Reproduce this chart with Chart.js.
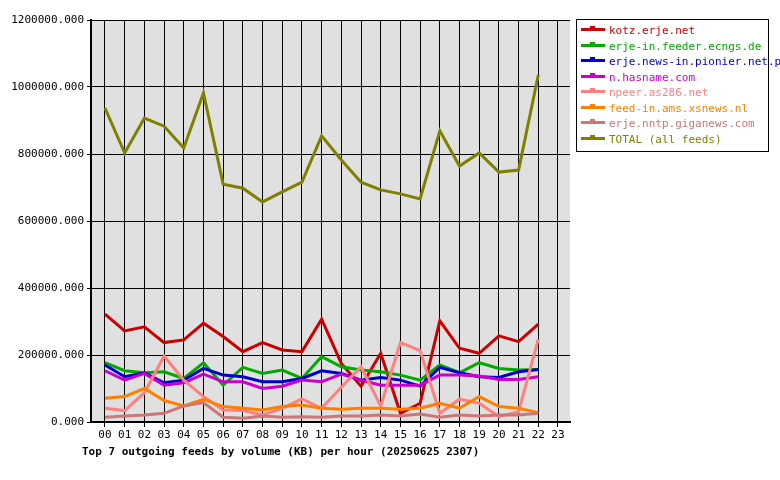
<!DOCTYPE html>
<html>
<head>
<meta charset="utf-8">
<script src="https://cdn.jsdelivr.net/npm/chart.js"></script>
<style>
  body { margin: 0; background: #fff; font-family: "DejaVu Sans Mono", monospace; }
  #wrap { position: relative; width: 780px; height: 480px; }
  #wrap canvas { position: absolute; left: 0; top: 0; }
  #legend { position: absolute; left: 576px; top: 19px; width: 191px; border: 1px solid #000; padding: 3px 0 4px 0; font-size: 11px; }
  #legend div { height: 15.5px; line-height: 15.5px; white-space: nowrap; }
  #legend span.sw { display: inline-block; position: relative; width: 24px; height: 3px; margin: 0 4px 3px 4px; vertical-align: middle; }
  #legend span.sw i { position: absolute; left: 9px; top: -2px; width: 5px; height: 5px; background: inherit; }
  #title { position: absolute; left: 82px; top: 445px; font-size: 11px; font-weight: bold; }
</style>
</head>
<body>
<div id="wrap">
  <canvas id="c" width="780" height="480"></canvas>
  <div id="legend"></div>
  <div id="title">Top 7 outgoing feeds by volume (KB) per hour (20250625 2307)</div>
</div>
<script>
// hours 00..22 (axis goes to 23)
const hours = ['00','01','02','03','04','05','06','07','08','09','10','11','12','13','14','15','16','17','18','19','20','21','22','23'];
const feedNames = ['kotz.erje.net', 'erje-in.feeder.ecngs.de', 'erje.news-in.pionier.net.pl', 'n.hasname.com',
  'npeer.as286.net', 'feed-in.ams.xsnews.nl', 'erje.nntp.giganews.com', 'TOTAL (all feeds)'];
const feedColors = ['#cc0000', '#00aa00', '#0000cc', '#cc00cc', '#ff8080', '#ff8000', '#cc7777', '#808000'];

const kotz = [322000,272000,284000,237000,245000,295000,255000,210000,237000,215000,210000,307000,175000,107000,205000,26000,56000,302000,220000,205000,257000,240000,292000];
const ecngs = [177000,153000,147000,150000,130000,177000,110000,163000,145000,155000,130000,195000,165000,155000,150000,140000,125000,170000,147000,177000,160000,155000,157000];
const pionier = [170000,135000,147000,117000,125000,160000,140000,135000,120000,120000,130000,153000,145000,125000,133000,125000,107000,163000,147000,135000,133000,150000,157000];
const hasname = [153000,125000,145000,110000,117000,143000,120000,120000,100000,107000,125000,120000,143000,125000,110000,110000,110000,140000,140000,137000,127000,127000,135000];
const npeer = [41000,34000,87000,197000,125000,76000,36000,34000,21000,41000,69000,41000,104000,165000,48000,237000,213000,26000,68000,56000,16000,31000,247000];
const xsnews = [71000,76000,100000,64000,48000,68000,46000,41000,36000,46000,51000,41000,38000,41000,41000,38000,41000,56000,41000,76000,46000,41000,28000];
const giganews = [14000,18000,21000,26000,48000,58000,14000,11000,18000,14000,16000,14000,18000,18000,21000,18000,24000,14000,21000,18000,21000,21000,26000];
const total = [937000,803000,907000,883000,818000,982000,710000,698000,657000,687000,716000,854000,782000,716000,693000,681000,666000,869000,764000,803000,746000,752000,1036000];

const series = [kotz, ecngs, pionier, hasname, npeer, xsnews, giganews, total];

// legend as html text
const leg = document.getElementById('legend');
feedNames.forEach((n, i) => {
  const d = document.createElement('div');
  d.innerHTML = '<span class="sw" style="background:' + feedColors[i] + '"><i></i></span><span style="color:' + feedColors[i] + '">' + n + '</span>';
  leg.appendChild(d);
});

const bgPlugin = {
  id: 'bg',
  beforeDraw(chart) {
    const a = chart.chartArea, ctx = chart.ctx;
    ctx.save();
    ctx.fillStyle = '#e0e0e0';
    ctx.fillRect(a.left, a.top, a.right - a.left, a.bottom - a.top);
    ctx.restore();
  }
};

new Chart(document.getElementById('c'), {
  type: 'line',
  data: {
    datasets: series.map((s, i) => ({
      label: feedNames[i],
      data: s.map((v, j) => ({ x: j, y: v })),
      borderColor: feedColors[i],
      borderWidth: 3,
      pointRadius: 0,
      tension: 0,
      fill: false
    })).reverse()
  },
  options: {
    responsive: false,
    animation: false,
    layout: { padding: { top: 20, right: 210, bottom: 0, left: 0 } },
    plugins: { legend: { display: false }, tooltip: { enabled: false } },
    scales: {
      x: {
        type: 'linear', min: -0.71, max: 23.61,
        afterBuildTicks(ax) { ax.ticks = hours.map((h, i) => ({ value: i })); },
        afterFit(ax) { ax.height = 58; },
        ticks: { autoSkip: false, maxRotation: 0, color: '#000', padding: 2,
          font: { family: 'DejaVu Sans Mono', size: 11 },
          callback: (v) => hours[v] },
        grid: { color: '#000', lineWidth: 1, tickLength: 5, drawTicks: true },
        border: { color: '#000', width: 2 }
      },
      y: {
        min: 0, max: 1200000,
        afterFit(ax) { ax.width = 91; },
        ticks: { stepSize: 200000, color: '#000', padding: 3,
          font: { family: 'DejaVu Sans Mono', size: 11 },
          callback: (v) => v.toFixed(3) },
        grid: { color: '#000', lineWidth: 1, tickLength: 4 },
        border: { color: '#000', width: 2 }
      }
    }
  },
  plugins: [bgPlugin]
});
</script>
</body>
</html>
